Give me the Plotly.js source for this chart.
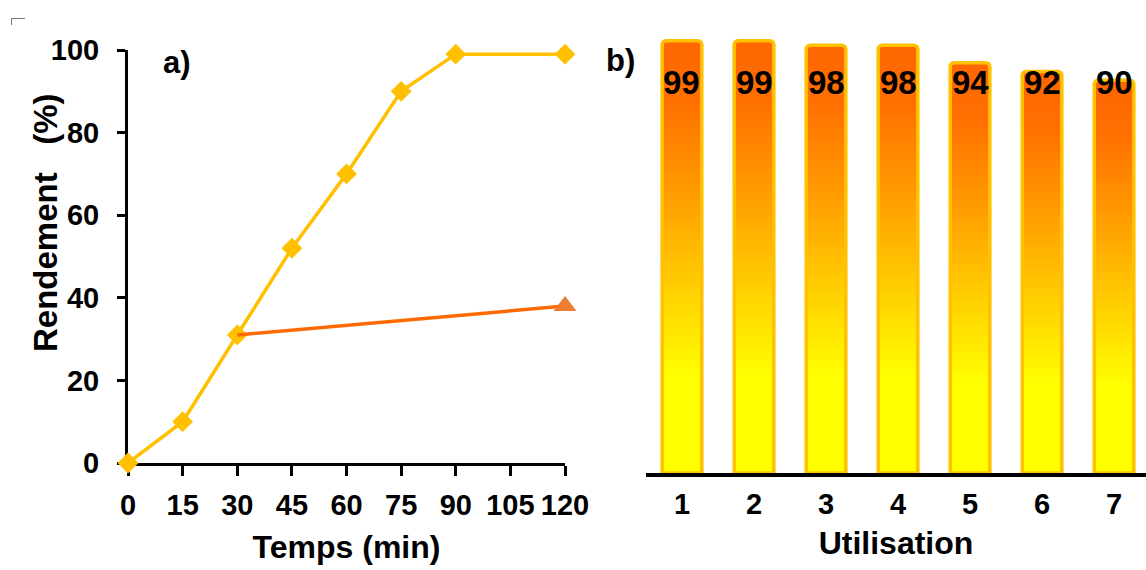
<!DOCTYPE html>
<html>
<head>
<meta charset="utf-8">
<script src="https://cdn.plot.ly/plotly-3.0.1.min.js"></script>
<style>html,body{margin:0;padding:0;background:#fff;}#chart{width:1146px;height:570px;}</style>
</head>
<body>
<div id="chart"></div>
<script>
// ---- data (a) ----
const times = [0, 15, 30, 45, 60, 75, 90, 120];
const yieldA = [0, 10, 31, 52, 70, 90, 99, 99];
const timesB = [30, 120];
const yieldB = [31, 38];
const timeTicks = [0, 15, 30, 45, 60, 75, 90, 105, 120];
const yTicks = [0, 20, 40, 60, 80, 100];
// ---- data (b) ----
const cycles = [1, 2, 3, 4, 5, 6, 7];
const reuseYield = [99, 99, 98, 98, 94, 92, 90];

const W = 1146, H = 570;
const FONT = 'Liberation Sans, Arial, sans-serif';
const bold = (size) => ({family: FONT, size: size, color: '#000', weight: 700});

const traces = [
  {
    type: 'scatter', mode: 'lines+markers', x: times, y: yieldA,
    xaxis: 'x', yaxis: 'y', cliponaxis: false, hoverinfo: 'none',
    line: {color: '#FFC000', width: 3.5},
    marker: {symbol: 'diamond', size: 16, color: '#FFC000', opacity: 1, line: {width: 0}}
  },
  {
    type: 'scatter', mode: 'lines', x: timesB, y: yieldB,
    xaxis: 'x', yaxis: 'y', cliponaxis: false, hoverinfo: 'none',
    line: {color: '#FF6A00', width: 3.5}
  },
  {
    type: 'scatter', mode: 'markers', x: timesB.slice(-1), y: yieldB.slice(-1),
    xaxis: 'x', yaxis: 'y', cliponaxis: false, hoverinfo: 'none',
    marker: {symbol: 'triangle-up', size: 20, color: '#ED7D31', opacity: 1, line: {width: 0}}
  },
  {
    type: 'bar', x: cycles, y: reuseYield, xaxis: 'x2', yaxis: 'y2',
    width: 0.55, hoverinfo: 'none',
    marker: {color: '#FFB000', line: {color: '#FFC000', width: 3.5}, cornerradius: 4}
  }
];

const annotations = [
  {text: 'a)', xref: 'paper', yref: 'paper', x: 177 / W, y: 1 - 62 / H, showarrow: false, font: bold(31), xanchor: 'center', yanchor: 'middle'},
  {text: 'b)', xref: 'paper', yref: 'paper', x: 620 / W, y: 1 - 60 / H, showarrow: false, font: bold(31), xanchor: 'center', yanchor: 'middle'},
  {text: 'Rendement   (%)', xref: 'paper', yref: 'paper', x: 45 / W, y: 1 - 223 / H, showarrow: false, textangle: -90, font: bold(33), xanchor: 'center', yanchor: 'middle'}
];
cycles.forEach((c, i) => {
  annotations.push({
    text: String(reuseYield[i]), xref: 'x2', yref: 'paper', x: c, y: 1 - 82 / H,
    showarrow: false, font: bold(33), xanchor: 'center', yanchor: 'middle'
  });
});

const commonAx = {showgrid: false, zeroline: false, color: '#000', layer: 'below traces'};

const layout = {
  width: W, height: H,
  margin: {l: 0, r: 0, t: 0, b: 0},
  paper_bgcolor: '#fff', plot_bgcolor: 'rgba(0,0,0,0)',
  showlegend: false,
  font: {family: FONT, color: '#000'},
  xaxis: Object.assign({}, commonAx, {
    domain: [128 / W, 565 / W], range: [0, 120], anchor: 'y',
    tickmode: 'array', tickvals: timeTicks, ticktext: timeTicks.map(String),
    ticks: 'outside', ticklen: 10, tickwidth: 3, tickcolor: '#000',
    showline: true, linewidth: 3, linecolor: '#000',
    tickfont: bold(29), ticklabelstandoff: 4,
    title: {text: 'Temps (min)', font: bold(32), standoff: 16}
  }),
  yaxis: Object.assign({}, commonAx, {
    domain: [(H - 463) / H, (H - 50) / H], range: [0, 100], anchor: 'x',
    tickmode: 'array', tickvals: yTicks, ticktext: yTicks.map(String),
    ticks: 'outside', ticklen: 8, tickwidth: 3, tickcolor: '#000',
    showline: true, linewidth: 3, linecolor: '#000',
    tickfont: bold(29), ticklabelstandoff: 12
  }),
  xaxis3: Object.assign({}, commonAx, {
    overlaying: 'x', anchor: 'y3', range: [0, 120],
    tickmode: 'array', tickvals: timeTicks,
    ticks: 'inside', ticklen: 10, tickwidth: 3, tickcolor: '#000',
    showticklabels: false, showline: false
  }),
  yaxis3: Object.assign({}, commonAx, {
    overlaying: 'y', anchor: 'x3', range: [0, 100],
    tickmode: 'array', tickvals: yTicks,
    ticks: 'inside', ticklen: 9, tickwidth: 3, tickcolor: '#000',
    showticklabels: false, showline: false
  }),
  xaxis2: Object.assign({}, commonAx, {
    domain: [646 / W, 1], range: [0.5, 7.444], anchor: 'y2',
    tickmode: 'array', tickvals: cycles, ticktext: cycles.map(String),
    ticks: '', showline: true, linewidth: 4, linecolor: '#000', layer: 'above traces',
    tickfont: bold(29), ticklabelstandoff: 2,
    title: {text: 'Utilisation', font: bold(32), standoff: 14}
  }),
  yaxis2: {
    domain: [(H - 473) / H, (H - 36.5) / H], range: [0, 100], anchor: 'x2',
    visible: false, showgrid: false, zeroline: false
  },
  annotations: annotations,
  shapes: [
    {type: 'line', xref: 'paper', yref: 'paper', x0: 11 / W, x1: 25 / W, y0: 1 - 18.5 / H, y1: 1 - 18.5 / H, line: {color: '#777', width: 1}},
    {type: 'line', xref: 'paper', yref: 'paper', x0: 11.5 / W, x1: 11.5 / W, y0: 1 - 18.5 / H, y1: 1 - 25 / H, line: {color: '#777', width: 1}}
  ]
};

function applyGradient() {
  const gd = document.getElementById('chart');
  const svg = gd.querySelector('.main-svg');
  if (!svg) return;
  let defs = svg.querySelector('defs');
  if (!defs) { defs = document.createElementNS('http://www.w3.org/2000/svg', 'defs'); svg.insertBefore(defs, svg.firstChild); }
  if (!document.getElementById('barGrad')) {
    const g = document.createElementNS('http://www.w3.org/2000/svg', 'linearGradient');
    g.setAttribute('id', 'barGrad');
    g.setAttribute('x1', '0'); g.setAttribute('y1', '0'); g.setAttribute('x2', '0'); g.setAttribute('y2', '1');
    [[0, '#FF6600'], [0.14, '#FF7000'], [0.37, '#FFA000'], [0.6, '#FFD500'], [0.78, '#FFFF00'], [1, '#FFFF00']].forEach(([o, c]) => {
      const s = document.createElementNS('http://www.w3.org/2000/svg', 'stop');
      s.setAttribute('offset', o); s.setAttribute('stop-color', c);
      g.appendChild(s);
    });
    defs.appendChild(g);
  }
  gd.querySelectorAll('.barlayer .point path').forEach(p => { p.style.fill = 'url(#barGrad)'; });
}

Plotly.newPlot('chart', traces, layout, {staticPlot: true, displayModeBar: false}).then(applyGradient);
</script>
</body>
</html>
